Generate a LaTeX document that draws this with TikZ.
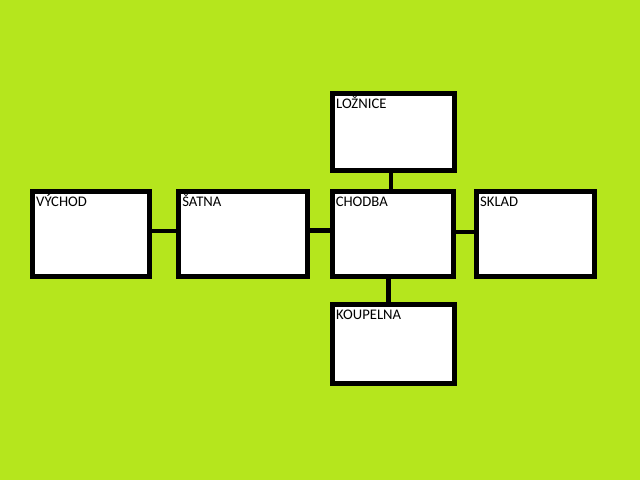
\documentclass[tikz,border=0pt]{standalone}
\usepackage{fontspec}
\setmainfont{Carlito}
\definecolor{paintlime}{RGB}{181,230,29}
\tikzset{
    room/.style={draw, fill=white, line width=3.75pt, inner sep=0pt},
    roomname/.style={anchor=base west, inner sep=0pt, font=\fontsize{11pt}{13pt}\selectfont},
    link/.style={line width=3.5pt}
}
\begin{document}
\begin{tikzpicture}[x=0.75pt, y=-0.75pt]
        \fill[paintlime] (0,0) rectangle (640,480);
        \useasboundingbox (0,0) rectangle (640,480);

        \node[room, minimum width=87.4pt, minimum height=64.1pt] (vychod) at (90.75,233.75) {};
        \node[room, minimum width=97.1pt, minimum height=63.75pt] (satna) at (243.25,234) {};
        \node[room, minimum width=90.9pt, minimum height=63.75pt] (chodba) at (392.6,234) {};
        \node[room, minimum width=88.3pt, minimum height=63.75pt] (sklad) at (535.3,234) {};
        \node[room, minimum width=91.3pt, minimum height=57.5pt] (loznice) at (393.3,131.8) {};
        \node[room, minimum width=91.3pt, minimum height=59.5pt] (koupelna) at (393.3,343.8) {};

        \draw [link] ([yshift=2pt]vychod.east) -- ([yshift=2pt]vychod.east -| satna.west);
        \draw [link] ([yshift=2.5pt]satna.east) -- ([yshift=2.5pt]satna.east -| chodba.west);
        \draw [link] ([yshift=1.5pt]chodba.east) -- ([yshift=1.5pt]chodba.east -| sklad.west);
        \draw [link] ([xshift=-1.7pt]loznice.south) -- ([xshift=-1.7pt]loznice.south |- chodba.north);
        \draw [link] ([xshift=-3pt]chodba.south) -- ([xshift=-3pt]chodba.south |- koupelna.north);

        \node[roomname] (vychod-t) at ([shift={(6,17.5)}]vychod.north west) {VÝCHOD};
        \node[roomname] (satna-t) at ([shift={(6,17.5)}]satna.north west) {ŠATNA};
        \node[roomname] (chodba-t) at ([shift={(6,17.5)}]chodba.north west) {CHODBA};
        \node[roomname] (sklad-t) at ([shift={(6,17.5)}]sklad.north west) {SKLAD};
        \node[roomname] (loznice-t) at ([shift={(6,17.5)}]loznice.north west) {LOŽNICE};
        \node[roomname] (koupelna-t) at ([shift={(6,17.5)}]koupelna.north west) {KOUPELNA};

    \end{tikzpicture}
\end{document}
